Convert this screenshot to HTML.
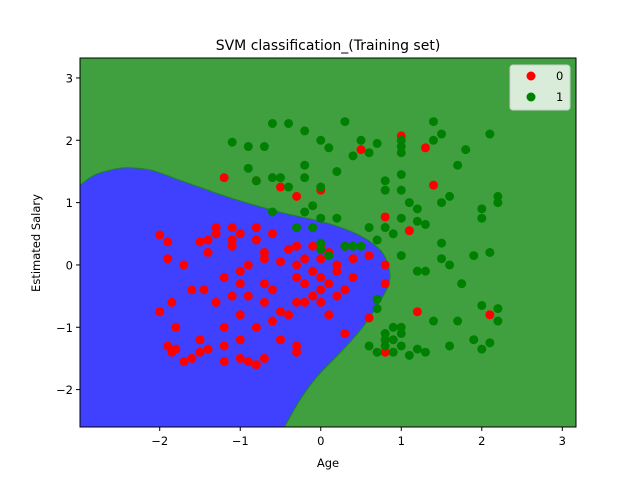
<!DOCTYPE html>
<html><head><meta charset="utf-8"><style>
body{margin:0;background:#fff;font-family:"Liberation Sans","DejaVu Sans",sans-serif}
</style></head><body>
<svg id="chart" width="640" height="480" font-family="DejaVu Sans, Liberation Sans, sans-serif"></svg>
<script>
const boundaryX=[-2.99,-2.8,-2.55,-2.37,-2.1,-1.75,-1.13,-0.51,0.11,0.52,0.77,0.86,0.77,0.52,0.24,-0.05,-0.26,-0.45];
const boundaryY=[1.28,1.45,1.54,1.56,1.52,1.36,1.08,0.85,0.66,0.45,0.19,-0.19,-0.51,-1.0,-1.41,-1.8,-2.17,-2.6];
const redX=[-2,-2,-1.9,-1.9,-1.85,-1.8,-1.9,-1.85,-1.8,-1.7,-1.7,-1.6,-1.6,-1.5,-1.5,-1.5,-1.45,-1.4,-1.4,-1.4,-1.3,-1.3,-1.3,-1.2,-1.2,-1.2,-1.1,-1.1,-1.1,-1.1,-1.0,-1.0,-1.0,-1.0,-0.9,-0.9,-0.8,-0.8,-0.8,-0.8,-0.7,-0.7,-0.7,-0.7,-0.7,-0.6,-0.5,-0.5,-0.5,-0.4,-0.4,-0.3,-0.3,-0.3,-0.3,-0.3,-0.2,-0.2,-0.1,-0.1,-0.1,0,0,0,0.1,0.1,0.2,0.2,0.3,0.3,0.3,0.4,0.4,-1,-0.9,-0.6,-0.6,0.1,0.2,0,-0.2,-1.2,-1.0,-0.3,0.0,-1.2,-0.8,-0.5,-0.3,0,0.5,1,1.3,1.4,0.8,0.8,0.6,1.1,1.2,2.1,0.8,0.8,0.6];
const redY=[0.48,-0.75,0.37,0.1,-0.6,-1.0,-1.3,-1.4,-1.35,-1.55,0.0,-0.4,-1.5,0.37,-1.2,-1.4,-0.4,0.4,0.2,-1.35,-0.6,0.6,0.5,-1.0,-1.55,-0.2,-0.5,0.6,0.4,0.3,0.5,-0.3,-1.2,-0.8,-0.5,-1.55,0.6,0.4,-1.0,-1.6,0.2,0.1,-0.3,-0.6,-1.5,-0.4,-0.75,-1.2,0.05,-0.8,0.25,0.3,-0.2,-1.3,-1.4,0.0,-0.6,0.1,-0.5,-0.1,0.3,-0.4,-0.6,0.1,-0.3,0.2,-0.1,-0.5,0.3,-0.4,-1.1,-0.2,0.1,-0.1,0.0,0.5,-0.9,-0.8,0.0,-0.2,-0.3,-1.3,-1.5,-0.6,0.3,1.4,1.35,1.25,1.1,1.2,1.85,2.07,1.88,1.28,0.77,-0.3,-0.85,0.55,-0.75,-0.8,-1.4,0.0,0.15];
const greenX=[-1.1,-0.9,-0.7,-0.9,-0.6,-0.4,-0.2,-0.8,-0.6,-0.5,-0.4,-0.2,0,-0.2,0,0.1,0.3,0.2,0.4,0.5,0.6,0.7,0.8,0.8,1.0,1.0,1.0,1.0,1.1,1.2,1.3,1.4,1.4,1.5,1.7,1.8,1.6,1.5,1.2,1.0,2.0,2.0,2.1,2.2,2.2,1.5,1.5,1.9,2.1,1.75,1.6,1.3,1.2,1.0,0.9,0.8,0.7,1.0,0.6,0.2,0.0,-0.2,-0.1,-0.3,-0.6,0.5,0.4,0.3,0,-0.1,0.1,0.0,0.7,0.7,0.6,0.7,0.8,0.9,1,1,1.2,1.3,1.4,1.6,1.7,2.0,2.0,2.2,2.2,2.1,1.9,1.1,0.8,1.0,0.9,0.8,0.9];
const greenY=[1.97,1.9,1.9,1.55,2.27,2.27,2.15,1.35,1.4,1.4,1.25,1.4,1.25,1.6,2.0,1.88,2.3,1.5,1.75,2.0,1.8,1.95,1.35,1.2,2.0,1.9,1.8,1.45,1.0,0.7,0.65,2.3,2.0,2.1,1.6,1.85,1.1,1.0,0.9,1.2,0.9,0.75,2.1,1.1,1.0,0.35,0.1,0.15,0.2,-0.3,0.0,-0.1,-0.1,0.15,0.5,0.6,0.4,0.75,0.6,0.75,0.75,0.85,0.95,0.6,0.85,0.3,0.3,0.3,0.25,0.6,0.15,0.35,-0.7,-0.55,-1.3,-1.4,-1.2,-1.2,-1.0,-1.1,-1.35,-1.4,-0.9,-1.3,-0.9,-0.65,-1.35,-0.7,-0.9,-1.25,-1.2,-1.45,-1.1,-1.3,-1.4,-1.3,-1.0];
const xTicks=[-2,-1,0,1,2,3];
const yTicks=[-2,-1,0,1,2,3];

const svg=document.getElementById('chart');
const NS='http://www.w3.org/2000/svg';
const L=80,R=576,T=58,B=427;
const X0=-2.99,X1=3.17,Y0=-2.6,Y1=3.32;
const sx=v=>L+(v-X0)/(X1-X0)*(R-L);
const sy=v=>B-(v-Y0)/(Y1-Y0)*(B-T);
function mk(tag,attrs,parent){const e=document.createElementNS(NS,tag);for(const k in attrs)e.setAttribute(k,attrs[k]);(parent||svg).appendChild(e);return e;}

const bg=mk('rect',{x:L,y:T,width:R-L,height:B-T,fill:'#40a040'});


const P=boundaryX.map((v,i)=>[sx(v),sy(boundaryY[i])]);
let d='M'+sx(X0)+','+sy(Y0)+' L'+P[0][0]+','+P[0][1];
for(let i=0;i<P.length-1;i++){
  const p0=P[Math.max(i-1,0)],p1=P[i],p2=P[i+1],p3=P[Math.min(i+2,P.length-1)];
  const c1=[p1[0]+(p2[0]-p0[0])/6,p1[1]+(p2[1]-p0[1])/6];
  const c2=[p2[0]-(p3[0]-p1[0])/6,p2[1]-(p3[1]-p1[1])/6];
  d+=' C'+c1.map(n=>n.toFixed(1))+' '+c2.map(n=>n.toFixed(1))+' '+p2.map(n=>n.toFixed(1));
}
d+=' Z';
const blue=mk('path',{d:d,fill:'#4040ff',stroke:'#1a8a1a','stroke-width':1});



for(let i=0;i<redX.length;i++){
  const c=mk('circle',{cx:sx(redX[i]),cy:sy(redY[i]),r:4.5,fill:'#ff0000'});
  
  
}
for(let i=0;i<greenX.length;i++){
  const c=mk('circle',{cx:sx(greenX[i]),cy:sy(greenY[i]),r:4.5,fill:'#008000'});
  
  
}
const frame=mk('rect',{x:L,y:T,width:R-L,height:B-T,fill:'none',stroke:'#000','stroke-width':1});



xTicks.forEach(t=>{
  const x=sx(t);
  const ln=mk('line',{x1:x,x2:x,y1:B,y2:B+4,stroke:'#000'});
  
  
  const tx=mk('text',{x:x,y:B+18,'font-size':11.5,'text-anchor':'middle'});
  tx.textContent=(t<0?'\u2212'+(-t):t);
  
  
});
yTicks.forEach(t=>{
  const y=sy(t);
  const ln=mk('line',{x1:L-4,x2:L,y1:y,y2:y,stroke:'#000'});
  
  
  const tx=mk('text',{x:L-7,y:y+4.5,'font-size':11.5,'text-anchor':'end'});
  tx.textContent=(t<0?'\u2212'+(-t):t);
  
  
});
</script>
<svg width="640" height="480" style="position:absolute;left:0;top:0" font-family="DejaVu Sans, Liberation Sans, sans-serif">
  <text x="328" y="50" font-size="14" text-anchor="middle">SVM classification_(Training set)</text>
  <text x="328" y="467" font-size="11.5" text-anchor="middle">Age</text>
  <text x="40" y="243" font-size="11.5" text-anchor="middle" transform="rotate(-90 40 243)">Estimated Salary</text>
  <g>
    <rect x="510" y="65" width="60" height="45" rx="3" fill="#fff" fill-opacity="0.8" stroke="#ccc"/>
    <circle cx="531" cy="76" r="4.5" fill="#ff0000"/>
    <text x="556" y="80" font-size="11.5">0</text>
    <circle cx="531" cy="97" r="4.5" fill="#008000"/>
    <text x="556" y="101" font-size="11.5">1</text>
  </g>
</svg>
</body></html>
